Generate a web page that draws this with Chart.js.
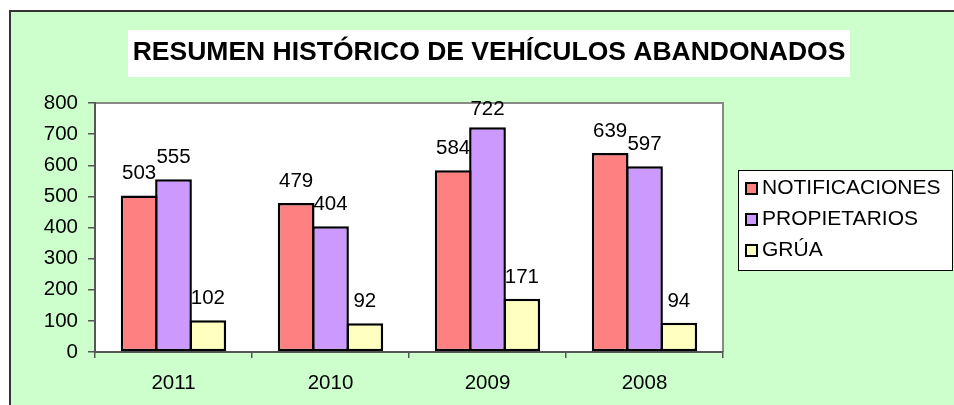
<!DOCTYPE html>
<html>
<head>
<meta charset="utf-8">
<script src="https://cdn.jsdelivr.net/npm/chart.js@4.4.1/dist/chart.umd.min.js"></script>
<style>
  html, body { margin: 0; padding: 0; background: #ffffff; }
  canvas { display: block; }
</style>
</head>
<body>
<canvas id="c" width="954" height="405"></canvas>
<script>
// ---- Data ----
const titleText = 'RESUMEN HISTÓRICO DE VEHÍCULOS ABANDONADOS';
const categories = ['2011', '2010', '2009', '2008'];
const seriesNames = ['NOTIFICACIONES', 'PROPIETARIOS', 'GRÚA'];
const notificaciones = [503, 479, 584, 639];
const propietarios = [555, 404, 722, 597];
const grua = [102, 92, 171, 94];
const yMin = 0;
const yMax = 800;
const yStep = 100;

// ---- Styles ----
const seriesColors = ['#FF8080', '#CC99FF', '#FFFFC0'];
const FONT = '"Liberation Sans", Arial, sans-serif';
const bgGreen = '#CCFFCC';

const frame = {
  id: 'frame',
  beforeDraw(chart) {
    const ctx = chart.ctx;
    const a = chart.chartArea;
    ctx.save();
    ctx.fillStyle = '#ffffff';
    ctx.fillRect(0, 0, chart.width, chart.height);
    ctx.fillStyle = bgGreen;
    ctx.fillRect(10, 11, chart.width - 10, chart.height - 11);
    ctx.strokeStyle = '#333333';
    ctx.lineWidth = 2;
    ctx.beginPath();
    ctx.moveTo(10, chart.height);
    ctx.lineTo(10, 11);
    ctx.lineTo(chart.width, 11);
    ctx.stroke();
    // plot area
    ctx.fillStyle = '#ffffff';
    ctx.fillRect(a.left, a.top, a.right - a.left, a.bottom - a.top);
    ctx.strokeStyle = '#888888';
    ctx.lineWidth = 2;
    ctx.beginPath();
    ctx.moveTo(a.left, a.top);
    ctx.lineTo(a.right, a.top);
    ctx.lineTo(a.right, a.bottom);
    ctx.stroke();
    // title box + text
    ctx.fillStyle = '#ffffff';
    ctx.fillRect(128, 30, 722, 47);
    ctx.fillStyle = '#000000';
    ctx.font = 'bold 26.5px ' + FONT;
    ctx.textAlign = 'center';
    ctx.textBaseline = 'middle';
    ctx.fillText(titleText, 489, 53);
    ctx.restore();
  },
  afterDraw(chart) {
    const ctx = chart.ctx;
    ctx.save();
    // legend
    ctx.fillStyle = '#ffffff';
    ctx.fillRect(738, 170, 215, 101);
    ctx.strokeStyle = '#000000';
    ctx.lineWidth = 1;
    ctx.strokeRect(738.5, 170.5, 214, 100);
    ctx.font = '21px ' + FONT;
    ctx.textAlign = 'left';
    ctx.textBaseline = 'middle';
    chart.data.datasets.forEach((ds, i) => {
      const cy = 188 + i * 31;
      ctx.fillStyle = ds.backgroundColor;
      ctx.fillRect(745, cy - 6, 13, 13);
      ctx.strokeStyle = '#000000';
      ctx.lineWidth = 2;
      ctx.strokeRect(746, cy - 5, 11, 11);
      ctx.fillStyle = '#000000';
      ctx.fillText(ds.label, 762, cy);
    });
    ctx.restore();
  },
  afterDatasetsDraw(chart) {
    const ctx = chart.ctx;
    const a = chart.chartArea;
    ctx.save();
    ctx.font = '20.5px ' + FONT;
    ctx.fillStyle = '#000000';
    ctx.textAlign = 'center';
    ctx.textBaseline = 'alphabetic';
    chart.data.datasets.forEach((ds, i) => {
      chart.getDatasetMeta(i).data.forEach((el, j) => {
        const yb = Math.max(el.y - 16, a.top + 12);
        ctx.fillText(String(ds.data[j]), el.x, yb);
      });
    });
    ctx.restore();
  }
};

const mkDs = (label, data, color) => ({
  label, data,
  backgroundColor: color,
  borderColor: '#000000',
  borderWidth: 2.5,
  borderSkipped: false,
  categoryPercentage: 0.656,
  barPercentage: 1.07
});

new Chart(document.getElementById('c'), {
  type: 'bar',
  data: {
    labels: categories,
    datasets: [
      mkDs(seriesNames[0], notificaciones, seriesColors[0]),
      mkDs(seriesNames[1], propietarios, seriesColors[1]),
      mkDs(seriesNames[2], grua, seriesColors[2])
    ]
  },
  options: {
    responsive: false,
    animation: false,
    devicePixelRatio: 1,
    layout: { padding: { left: 11, top: 103, right: 231, bottom: 0 } },
    plugins: {
      legend: { display: false },
      title: { display: false },
      tooltip: { enabled: false }
    },
    scales: {
      x: {
        afterFit(s) { s.height = 53; },
        grid: {
          offset: true,
          drawOnChartArea: false,
          drawTicks: true,
          tickLength: 6,
          tickColor: '#555555',
          lineWidth: 1.5
        },
        border: { display: true, color: '#555555', width: 2 },
        ticks: { color: '#000000', font: { family: FONT, size: 20.5 }, padding: 13, maxRotation: 0 }
      },
      y: {
        min: yMin,
        max: yMax,
        afterFit(s) { s.width = 84; },
        grid: {
          drawOnChartArea: false,
          drawTicks: true,
          tickLength: 7,
          tickColor: '#555555',
          lineWidth: 1.5
        },
        border: { display: true, color: '#555555', width: 2 },
        ticks: { stepSize: yStep, color: '#000000', font: { family: FONT, size: 20.5 }, padding: 10 }
      }
    }
  },
  plugins: [frame]
});
</script>
</body>
</html>
